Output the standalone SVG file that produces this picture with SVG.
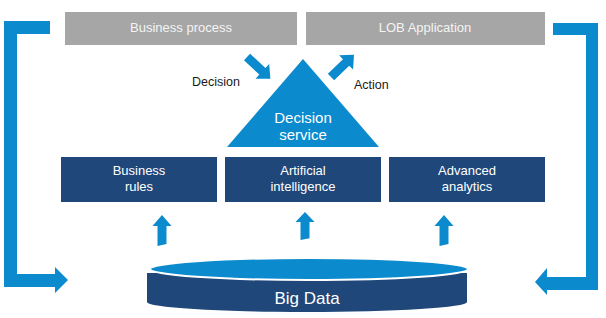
<svg xmlns="http://www.w3.org/2000/svg" width="606" height="318" viewBox="0 0 606 318">
<style>
.blue{fill:#0b8acd}
.navy{fill:#1f4779}
.gray{fill:#a6a6a6}
text{font-family:"Liberation Sans","Noto Sans",Arial,sans-serif}
.lt{fill:#f4f4f4;font-size:13px;text-anchor:middle}
.wt{fill:#ffffff;font-size:13px;text-anchor:middle}
.bk{fill:#1a1a1a;font-size:12.5px}
</style>
<defs>
<path id="up" d="M-4.5,0 L-4.5,-20 L-9.5,-20 L0,-31 L9.5,-20 L4.5,-20 L4.5,-2 Z"/>
<path id="diag" d="M0,-4.5 L21,-4.5 L21,-10 L32,0 L21,10 L21,4.5 L0,4.5 Z"/>
</defs>
<rect width="606" height="318" fill="#ffffff"/>
<g id="business-process">
<rect class="gray" x="65" y="12" width="232" height="33"/>
<text class="lt" x="181" y="32">Business process</text>
</g>
<g id="lob-application">
<rect class="gray" x="306" y="12" width="239" height="33"/>
<text class="lt" x="425" y="32">LOB Application</text>
</g>
<g id="decision-service">
<polygon class="blue" points="303,59 379,147 227,147"/>
<text class="wt" x="303" y="123" style="font-size:15px">Decision</text>
<text class="wt" x="303" y="140" style="font-size:15px">service</text>
</g>
<g id="business-rules">
<rect class="navy" x="61" y="157" width="156" height="45"/>
<text class="wt" x="139" y="175">Business</text>
<text class="wt" x="139" y="191">rules</text>
</g>
<g id="artificial-intelligence">
<rect class="navy" x="225" y="157" width="156" height="45"/>
<text class="wt" x="303" y="175">Artificial</text>
<text class="wt" x="303" y="191">intelligence</text>
</g>
<g id="advanced-analytics">
<rect class="navy" x="389" y="157" width="156" height="45"/>
<text class="wt" x="467" y="175">Advanced</text>
<text class="wt" x="467" y="191">analytics</text>
</g>
<g id="big-data">
<path class="navy" d="M147,273 L147,302 A160,10 0 0 0 467,302 L467,273 Z"/>
<ellipse cx="309" cy="269" rx="159" ry="11" fill="#0b8acd" stroke="#ffffff" stroke-width="2"/>
<text x="307" y="304" style="fill:#ffffff;font-size:17px;text-anchor:middle">Big Data</text>
</g>
<g id="connectors">
<path class="blue" d="M4,21 L50,21 L50,34 L17,34 L17,274 L55,274 L55,267 L68,280 L55,293 L55,287 L4,287 Z"/>
<path class="blue" d="M598,23 L553,23 L553,35 L586,35 L586,277 L547,277 L547,268 L535,282 L547,295 L547,290 L598,290 Z"/>
<use href="#diag" class="blue" transform="translate(247,57) rotate(43)"/>
<use href="#diag" class="blue" transform="translate(331,77) rotate(-44)"/>
<use href="#up" class="blue" transform="translate(162,246)"/>
<use href="#up" class="blue" transform="translate(305,240) scale(1,0.9)"/>
<use href="#up" class="blue" transform="translate(444,246)"/>
<text class="bk" x="192" y="86">Decision</text>
<text class="bk" x="354" y="89">Action</text>
</g>
</svg>
